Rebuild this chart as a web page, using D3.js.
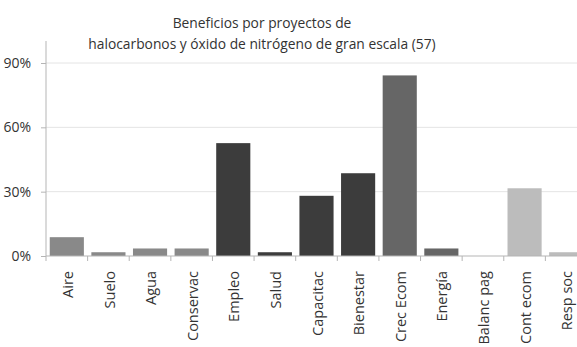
<!DOCTYPE html>
<html><head><meta charset="utf-8">
<script src="https://cdn.jsdelivr.net/npm/d3@7"></script>
<style>body{margin:0;background:#fff;}svg{display:block;}</style>
</head><body>
<svg id="c" width="577" height="347"></svg>
<script>
const categories = ["Aire","Suelo","Agua","Conservac","Empleo","Salud","Capacitac","Bienestar","Crec Ecom","Energía","Balanc pag","Cont ecom","Resp soc"];
const values = [5/57, 1/57, 2/57, 2/57, 30/57, 1/57, 16/57, 22/57, 48/57, 2/57, 0, 18/57, 1/57];
const colors = ["#898989","#898989","#898989","#898989","#3c3c3c","#3c3c3c","#3c3c3c","#3c3c3c","#666666","#666666","#666666","#bcbcbc","#bcbcbc"];
const yTicks = [0, 0.3, 0.6, 0.9];
const titleLines = ["Beneficios por proyectos de", "halocarbonos y óxido de nitrógeno de gran escala (57)"];

const svg = d3.select("#c");
const font = "'Open Sans', sans-serif";
const x = d3.scaleBand().domain(categories).range([46, 587]).paddingInner(0.18).paddingOuter(0.09);
const y = d3.scaleLinear().domain([0, 0.9]).range([256, 63]);

// gridlines
svg.append("g").selectAll("line").data(yTicks.filter(d => d > 0)).join("line")
  .attr("x1", 46).attr("x2", 577).attr("y1", d => y(d)).attr("y2", d => y(d))
  .attr("stroke", "#e4e4e4").attr("stroke-width", 1);

// y axis
const ya = svg.append("g").attr("transform", "translate(46,0)")
  .call(d3.axisLeft(y).tickValues(yTicks).tickFormat(d3.format(".0%")).tickSize(5));
ya.selectAll(".tick line").attr("stroke", "#b5b5b5");
ya.selectAll("text").attr("font-family", font).attr("font-size", 14).attr("fill", "#333").attr("x", -15);
ya.select(".domain").attr("stroke", "#b5b5b5").attr("d", "M0," + (y(0.9) - 22) + "V" + y(0));

// bars
svg.append("g").selectAll("rect").data(categories).join("rect")
  .attr("x", d => x(d)).attr("width", x.bandwidth())
  .attr("y", (d, i) => y(values[i])).attr("height", (d, i) => y(0) - y(values[i]))
  .attr("fill", (d, i) => colors[i]);

// x axis
const stepX = x.step();
const xa = svg.append("g").attr("transform", "translate(0," + y(0) + ")")
  .call(d3.axisBottom(x).tickSize(0).tickPadding(0));
xa.select(".domain").attr("stroke", "#b5b5b5").attr("d", "M46,0H577");
xa.selectAll(".tick text").attr("font-family", font).attr("font-size", 14.5).attr("fill", "#333")
  .attr("transform", "rotate(-90)").attr("text-anchor", "end").attr("dy", "0.35em").attr("x", -15).attr("y", 1);
svg.append("g").selectAll("line").data(categories).join("line")
  .attr("x1", d => x(d) - (stepX - x.bandwidth()) / 2).attr("x2", d => x(d) - (stepX - x.bandwidth()) / 2)
  .attr("y1", y(0)).attr("y2", y(0) + 5).attr("stroke", "#b5b5b5");

// title
svg.append("g").selectAll("text").data(titleLines).join("text")
  .attr("x", 262).attr("y", (d, i) => 28 + i * 21).attr("text-anchor", "middle")
  .attr("font-family", font).attr("font-size", 13.8).attr("fill", "#333").text(d => d);
</script>
</body></html>
